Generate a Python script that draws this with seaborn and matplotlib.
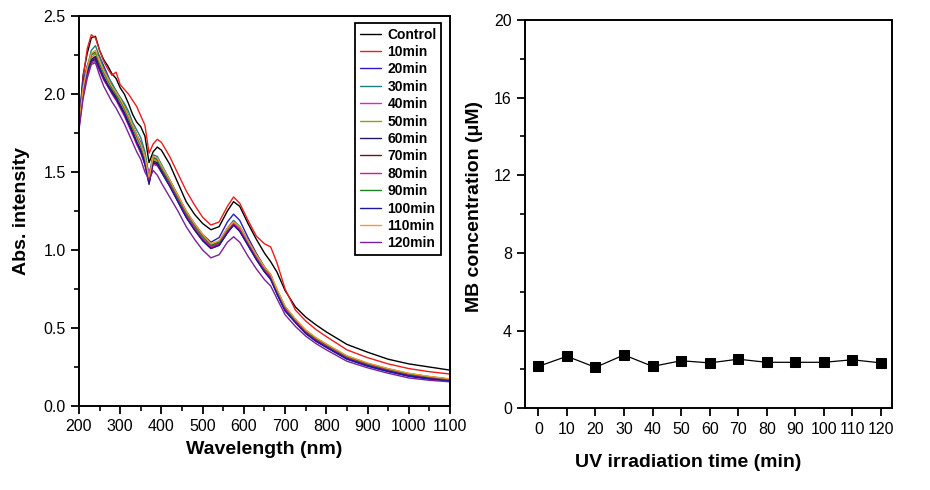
import numpy as np
import pandas as pd
import matplotlib
matplotlib.use("Agg")
import matplotlib.pyplot as plt
from matplotlib.ticker import MultipleLocator, FormatStrFormatter
import seaborn as sns

# ---------------- data ----------------
wavelength = [200, 210, 220, 230, 240, 250, 260, 270, 280, 290, 300, 310, 320, 330, 340, 350,
              360, 370, 380, 390, 400, 420, 440, 460, 480, 500, 520, 540, 560, 575, 590, 610,
              630, 650, 665, 680, 700, 725, 750, 775, 800, 850, 900, 950, 1000, 1050, 1100]

series_names = ["Control", "10min", "20min", "30min", "40min", "50min", "60min",
                "70min", "80min", "90min", "100min", "110min", "120min"]

abs_control = [1.80, 2.12, 2.26, 2.36, 2.37, 2.28, 2.22, 2.18, 2.13, 2.10, 2.04, 2.00, 1.94, 1.87, 1.82, 1.79,
               1.73, 1.56, 1.63, 1.66, 1.64, 1.55, 1.43, 1.31, 1.23, 1.17, 1.13, 1.15, 1.25, 1.31, 1.28, 1.17,
               1.07, 0.98, 0.925, 0.86, 0.74, 0.635, 0.57, 0.52, 0.475, 0.395, 0.345, 0.30, 0.27, 0.25, 0.23]
abs_10 = [1.78, 2.10, 2.29, 2.38, 2.36, 2.28, 2.21, 2.16, 2.12, 2.14, 2.06, 2.03, 2.00, 1.96, 1.92, 1.86,
          1.80, 1.62, 1.68, 1.71, 1.69, 1.60, 1.49, 1.38, 1.29, 1.21, 1.16, 1.18, 1.28, 1.34, 1.30, 1.19,
          1.09, 1.04, 1.02, 0.92, 0.75, 0.615, 0.545, 0.49, 0.445, 0.36, 0.31, 0.27, 0.24, 0.22, 0.205]
abs_20 = [1.82, 2.08, 2.18, 2.25, 2.27, 2.24, 2.18, 2.12, 2.06, 2.02, 1.97, 1.93, 1.86, 1.80, 1.74, 1.69,
          1.60, 1.47, 1.60, 1.58, 1.54, 1.45, 1.35, 1.25, 1.17, 1.10, 1.05, 1.08, 1.18, 1.23, 1.19, 1.08,
          0.98, 0.89, 0.82, 0.72, 0.61, 0.535, 0.465, 0.415, 0.375, 0.30, 0.255, 0.22, 0.19, 0.172, 0.16]
abs_30 = [1.80, 2.05, 2.17, 2.28, 2.31, 2.24, 2.16, 2.11, 2.07, 2.02, 1.98, 1.94, 1.89, 1.82, 1.77, 1.72,
          1.63, 1.48, 1.61, 1.60, 1.55, 1.45, 1.35, 1.24, 1.16, 1.09, 1.03, 1.05, 1.14, 1.19, 1.15, 1.06,
          0.97, 0.89, 0.84, 0.745, 0.635, 0.555, 0.485, 0.435, 0.395, 0.32, 0.273, 0.238, 0.208, 0.188, 0.172]
abs_40 = [1.79, 2.00, 2.13, 2.22, 2.24, 2.17, 2.10, 2.06, 2.01, 1.97, 1.93, 1.88, 1.82, 1.76, 1.70, 1.64,
          1.57, 1.50, 1.56, 1.55, 1.51, 1.42, 1.32, 1.22, 1.14, 1.07, 1.02, 1.04, 1.12, 1.17, 1.13, 1.04,
          0.95, 0.87, 0.83, 0.735, 0.625, 0.545, 0.478, 0.428, 0.388, 0.313, 0.268, 0.233, 0.203, 0.184, 0.168]
abs_50 = [1.81, 2.03, 2.15, 2.23, 2.26, 2.19, 2.13, 2.08, 2.03, 1.99, 1.95, 1.90, 1.84, 1.78, 1.72, 1.66,
          1.58, 1.44, 1.58, 1.57, 1.52, 1.43, 1.33, 1.23, 1.15, 1.08, 1.03, 1.05, 1.13, 1.17, 1.14, 1.05,
          0.96, 0.88, 0.83, 0.74, 0.63, 0.55, 0.48, 0.43, 0.39, 0.315, 0.27, 0.235, 0.205, 0.185, 0.17]
abs_60 = [1.80, 2.01, 2.14, 2.22, 2.24, 2.17, 2.11, 2.06, 2.02, 1.98, 1.93, 1.88, 1.82, 1.76, 1.69, 1.64,
          1.56, 1.43, 1.57, 1.56, 1.51, 1.42, 1.32, 1.22, 1.14, 1.07, 1.02, 1.04, 1.12, 1.16, 1.13, 1.04,
          0.95, 0.87, 0.82, 0.73, 0.62, 0.545, 0.475, 0.425, 0.385, 0.31, 0.265, 0.23, 0.20, 0.18, 0.165]
abs_70 = [1.81, 2.02, 2.14, 2.21, 2.23, 2.16, 2.10, 2.05, 2.01, 1.97, 1.92, 1.87, 1.81, 1.75, 1.68, 1.63,
          1.55, 1.42, 1.56, 1.55, 1.50, 1.41, 1.31, 1.21, 1.13, 1.06, 1.01, 1.03, 1.11, 1.16, 1.12, 1.03,
          0.94, 0.86, 0.82, 0.73, 0.62, 0.54, 0.472, 0.422, 0.383, 0.308, 0.263, 0.228, 0.198, 0.179, 0.164]
abs_80 = [1.78, 1.99, 2.12, 2.20, 2.21, 2.15, 2.09, 2.05, 2.00, 1.96, 1.91, 1.86, 1.80, 1.74, 1.68, 1.62,
          1.55, 1.47, 1.55, 1.54, 1.50, 1.42, 1.32, 1.22, 1.14, 1.07, 1.02, 1.04, 1.12, 1.17, 1.13, 1.04,
          0.95, 0.87, 0.83, 0.735, 0.625, 0.545, 0.477, 0.427, 0.387, 0.312, 0.267, 0.232, 0.202, 0.183, 0.167]
abs_90 = [1.80, 2.03, 2.16, 2.25, 2.27, 2.20, 2.14, 2.09, 2.04, 2.00, 1.96, 1.91, 1.85, 1.79, 1.73, 1.67,
          1.59, 1.45, 1.59, 1.58, 1.53, 1.44, 1.34, 1.24, 1.16, 1.09, 1.03, 1.05, 1.14, 1.18, 1.15, 1.06,
          0.97, 0.89, 0.84, 0.745, 0.635, 0.553, 0.483, 0.433, 0.393, 0.318, 0.272, 0.237, 0.207, 0.187, 0.171]
abs_100 = [1.82, 2.04, 2.14, 2.21, 2.22, 2.16, 2.10, 2.05, 2.01, 1.97, 1.92, 1.87, 1.81, 1.75, 1.69, 1.63,
           1.55, 1.43, 1.56, 1.55, 1.50, 1.41, 1.31, 1.21, 1.13, 1.06, 1.01, 1.03, 1.11, 1.16, 1.12, 1.03,
           0.94, 0.86, 0.81, 0.72, 0.61, 0.535, 0.465, 0.415, 0.377, 0.302, 0.258, 0.223, 0.193, 0.175, 0.16]
abs_110 = [1.80, 2.04, 2.17, 2.26, 2.28, 2.21, 2.15, 2.10, 2.05, 2.01, 1.97, 1.92, 1.86, 1.80, 1.74, 1.68,
           1.60, 1.46, 1.60, 1.59, 1.54, 1.45, 1.35, 1.25, 1.17, 1.10, 1.04, 1.06, 1.14, 1.18, 1.15, 1.06,
           0.97, 0.89, 0.845, 0.75, 0.64, 0.558, 0.488, 0.438, 0.398, 0.322, 0.276, 0.24, 0.21, 0.19, 0.174]
abs_120 = [1.77, 1.97, 2.10, 2.19, 2.20, 2.12, 2.05, 2.00, 1.95, 1.91, 1.86, 1.81, 1.75, 1.69, 1.63, 1.58,
           1.50, 1.45, 1.51, 1.48, 1.43, 1.34, 1.25, 1.15, 1.07, 1.00, 0.95, 0.97, 1.05, 1.085, 1.05, 0.96,
           0.88, 0.81, 0.77, 0.69, 0.585, 0.51, 0.448, 0.40, 0.36, 0.287, 0.245, 0.21, 0.18, 0.165, 0.155]

series_colors = ["#000000", "#ee1c1c", "#2a1acc", "#1a8080", "#e020d8", "#9a9a12", "#1a1a70",
                 "#741024", "#d81890", "#1e801e", "#1818a0", "#f09a30", "#7a2098"]

uv_time = [0, 10, 20, 30, 40, 50, 60, 70, 80, 90, 100, 110, 120]
mb_conc = [2.16, 2.68, 2.11, 2.75, 2.16, 2.45, 2.34, 2.53, 2.37, 2.37, 2.37, 2.50, 2.34]

# ---------------- build table ----------------
all_abs = [abs_control, abs_10, abs_20, abs_30, abs_40, abs_50, abs_60,
           abs_70, abs_80, abs_90, abs_100, abs_110, abs_120]
rows = []
for name, vals in zip(series_names, all_abs):
    for w, v in zip(wavelength, vals):
        rows.append({"Wavelength": w, "Abs": v, "Sample": name})
spec = pd.DataFrame(rows)
mb = pd.DataFrame({"time": uv_time, "conc": mb_conc})

# ---------------- style ----------------
sns.set_style("ticks")
plt.rcParams["font.family"] = ["Liberation Sans", "DejaVu Sans"]
plt.rcParams["axes.linewidth"] = 1.4
plt.rcParams["text.color"] = "black"
plt.rcParams["axes.labelcolor"] = "black"
plt.rcParams["xtick.color"] = "black"
plt.rcParams["ytick.color"] = "black"
plt.rcParams["axes.edgecolor"] = "black"

fig = plt.figure(figsize=(9.3, 4.9), dpi=100)
ax1 = fig.add_axes([0.0849, 0.1714, 0.399, 0.7959])
ax2 = fig.add_axes([0.5645, 0.1667, 0.395, 0.7925])

# ---------------- left: spectra ----------------
sns.lineplot(data=spec, x="Wavelength", y="Abs", hue="Sample", hue_order=series_names,
             palette=series_colors, linewidth=1.0, ax=ax1, legend=True, sort=True)
ax1.set_xlim(200, 1100)
ax1.set_ylim(0, 2.5)
ax1.xaxis.set_major_locator(MultipleLocator(100))
ax1.xaxis.set_minor_locator(MultipleLocator(50))
ax1.yaxis.set_major_locator(MultipleLocator(0.5))
ax1.yaxis.set_minor_locator(MultipleLocator(0.25))
ax1.yaxis.set_major_formatter(FormatStrFormatter("%.1f"))
ax1.set_xlabel("Wavelength (nm)", fontsize=14, fontweight="bold", color="black")
ax1.set_ylabel("Abs. intensity", fontsize=14, fontweight="bold", color="black")
ax1.xaxis.set_label_coords(0.5, -0.09)
ax1.yaxis.set_label_coords(-0.132, 0.5)

handles, labels = ax1.get_legend_handles_labels()
leg = ax1.legend(handles, labels, loc="upper right", bbox_to_anchor=(0.977, 0.983),
                 frameon=True, fancybox=False, edgecolor="black", framealpha=1,
                 prop={"weight": "bold", "size": 10}, handlelength=1.5,
                 handletextpad=0.45, labelspacing=0.245, borderpad=0.35, borderaxespad=0)
leg.get_frame().set_linewidth(1.3)
for t in leg.get_texts():
    t.set_color("black")

# ---------------- right: MB concentration ----------------
sns.lineplot(data=mb, x="time", y="conc", color="black", marker="s", markersize=6.5,
             markeredgecolor="black", linewidth=0.9, ax=ax2)
ax2.set_xlim(-4.7, 124)
ax2.set_ylim(0, 20)
ax2.xaxis.set_major_locator(MultipleLocator(10))
ax2.yaxis.set_major_locator(MultipleLocator(4))
ax2.yaxis.set_minor_locator(MultipleLocator(2))
ax2.set_xlabel("UV irradiation time (min)", fontsize=14, fontweight="bold", color="black")
ax2.set_ylabel("MB concentration (\u03bcM)", fontsize=14, fontweight="bold", color="black")
ax2.xaxis.set_label_coords(0.445, -0.118)
ax2.yaxis.set_label_coords(-0.114, 0.52)

for ax in (ax1, ax2):
    for s in ax.spines.values():
        s.set_visible(True)
        s.set_linewidth(1.4)
        s.set_color("black")
    ax.tick_params(which="major", direction="out", length=6, width=1.3, labelsize=11.5,
                   colors="black", top=False, right=False)
    ax.tick_params(which="minor", direction="out", length=3.5, width=1.2,
                   colors="black", top=False, right=False)

fig.savefig("out.png", dpi=100)
